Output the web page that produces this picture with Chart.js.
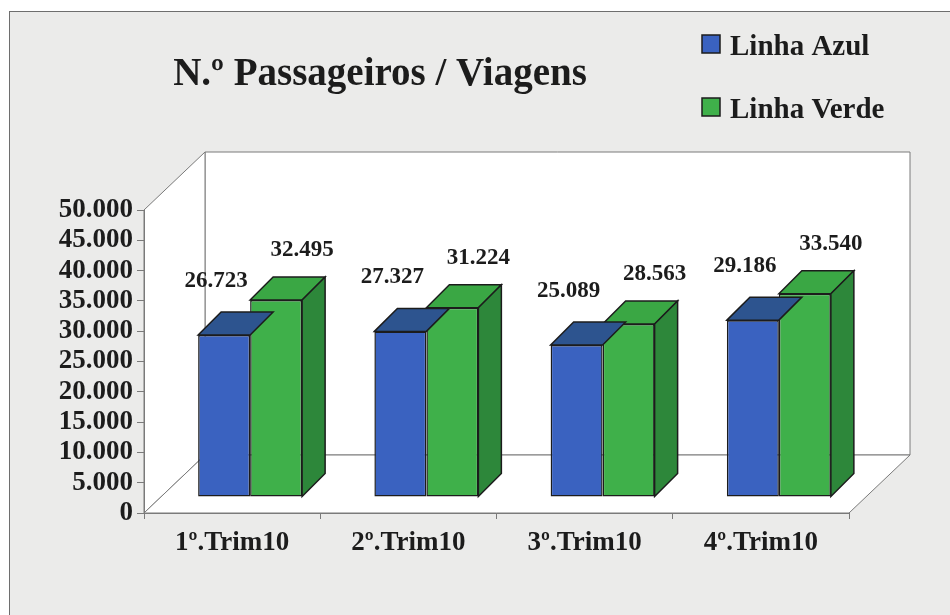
<!DOCTYPE html>
<html lang="pt">
<head>
<meta charset="UTF-8">
<title>N.º Passageiros / Viagens</title>
<script src="https://cdn.jsdelivr.net/npm/chart.js"></script>
<style>
    html, body { margin: 0; padding: 0; background: #fff; }
    #wrap { width: 950px; height: 615px; }
</style>
</head>
<body>
<div id="wrap"><canvas id="myChart" width="950" height="615"></canvas></div>
<script>
// data
const categories = ['1º.Trim10', '2º.Trim10', '3º.Trim10', '4º.Trim10'];
const linhaAzul = [26723, 27327, 25089, 29186];
const linhaVerde = [32495, 31224, 28563, 33540];
const seriesNames = ['Linha Azul', 'Linha Verde'];
const chartTitle = 'N.º Passageiros / Viagens';
const yMax = 50000;
const yStep = 5000;

const SERIF = "'Liberation Serif', 'Times New Roman', serif";
const INK = '#1c1c1c';
const LINE = '#7a7a7a';

// front / top / side colours for each series
const faces = [
    { front: '#3a62c0', top: '#2d548f', side: '#27467c' },
    { front: '#3fb04a', top: '#3aa744', side: '#2d873a' }
];

// 3d look: depth of the box, depth of the bars, where bars sit inside the box
const WALL_DX = 61, WALL_DY = 58;
const BAR_D = 23;
const BAR_SHIFT_X = 18, BAR_SHIFT_Y = 16;

function fmt(v) {
    return String(v).replace(/\B(?=(\d{3})+(?!\d))/g, '.');
}

function poly(ctx, pts, fill, stroke, lw) {
    ctx.beginPath();
    ctx.moveTo(pts[0][0], pts[0][1]);
    for (let i = 1; i < pts.length; i++) ctx.lineTo(pts[i][0], pts[i][1]);
    ctx.closePath();
    if (fill) { ctx.fillStyle = fill; ctx.fill(); }
    if (stroke) { ctx.strokeStyle = stroke; ctx.lineWidth = lw || 1; ctx.stroke(); }
}

const box3d = {
    id: 'box3d',
    beforeDraw(chart) {
        const ctx = chart.ctx;
        const a = chart.chartArea;
        ctx.save();
        // page + frame
        ctx.fillStyle = '#ffffff';
        ctx.fillRect(0, 0, chart.width, chart.height);
        ctx.fillStyle = '#ebebea';
        ctx.fillRect(9, 11, chart.width, chart.height);
        ctx.strokeStyle = '#6e6e6e';
        ctx.lineWidth = 1;
        ctx.strokeRect(9.5, 11.5, chart.width + 20, chart.height + 20);

        // back wall, left wall, floor
        const bl = a.left + WALL_DX, bt = a.top - WALL_DY;
        const br = a.right + WALL_DX, bb = a.bottom - WALL_DY;
        poly(ctx, [[bl, bt], [br, bt], [br, bb], [bl, bb]], '#ffffff', LINE, 1);
        poly(ctx, [[a.left, a.top], [bl, bt], [bl, bb], [a.left, a.bottom]], '#ffffff', LINE, 1);
        poly(ctx, [[a.left, a.bottom], [bl, bb], [br, bb], [a.right, a.bottom]], '#ffffff', LINE, 1);
        ctx.restore();
    },
    beforeDatasetsDraw(chart) {
        chart.ctx.save();
        chart.ctx.translate(BAR_SHIFT_X, -BAR_SHIFT_Y);
    },
    afterDatasetDraw(chart, args) {
        const ctx = chart.ctx;
        const f = faces[args.index];
        const last = args.index === chart.data.datasets.length - 1;
        args.meta.data.forEach(bar => {
            const p = bar.getProps(['x', 'y', 'base', 'width'], true);
            const l = p.x - p.width / 2, r = p.x + p.width / 2;
            const t = p.y, b = p.base;
            poly(ctx, [[l, t], [l + BAR_D, t - BAR_D], [r + BAR_D, t - BAR_D], [r, t]], f.top, INK, 1.5);
            if (last) {
                poly(ctx, [[r, t], [r + BAR_D, t - BAR_D], [r + BAR_D, b - BAR_D], [r, b]], f.side, INK, 1.5);
            }
        });
    },
    afterDatasetsDraw(chart) {
        const ctx = chart.ctx;
        // value labels above each bar
        ctx.font = 'bold 23px ' + SERIF;
        ctx.fillStyle = INK;
        ctx.textAlign = 'center';
        ctx.textBaseline = 'middle';
        const offs = [[-8, -54], [26, -50]];
        chart.data.datasets.forEach((ds, i) => {
            chart.getDatasetMeta(i).data.forEach((bar, j) => {
                ctx.fillText(fmt(ds.data[j]), bar.x + offs[i][0], bar.y + offs[i][1]);
            });
        });
        ctx.restore();
    },
    afterDraw(chart) {
        const ctx = chart.ctx;
        ctx.save();
        ctx.fillStyle = INK;
        ctx.textBaseline = 'alphabetic';
        // title
        ctx.font = 'bold 39px ' + SERIF;
        ctx.textAlign = 'center';
        ctx.fillText(chartTitle, 380, 85);
        // legend
        ctx.font = 'bold 29px ' + SERIF;
        ctx.textAlign = 'left';
        chart.data.datasets.forEach((ds, i) => {
            const y = 35 + i * 63;
            ctx.fillStyle = faces[i].front;
            ctx.fillRect(702, y, 18, 18);
            ctx.strokeStyle = INK;
            ctx.lineWidth = 1.5;
            ctx.strokeRect(702, y, 18, 18);
            ctx.fillStyle = INK;
            ctx.fillText(ds.label, 730, y + 20);
        });
        ctx.restore();
    }
};

const ctx = document.getElementById('myChart').getContext('2d');
const chart = new Chart(ctx, {
    type: 'bar',
    data: {
        labels: categories,
        datasets: [{
            label: seriesNames[0],
            data: linhaAzul,
            backgroundColor: faces[0].front,
            borderColor: INK,
            borderWidth: 1.5,
            borderSkipped: false,
            clip: false
        },
        {
            label: seriesNames[1],
            data: linhaVerde,
            backgroundColor: faces[1].front,
            borderColor: INK,
            borderWidth: 1.5,
            borderSkipped: false,
            clip: false
        }]
    },
    options: {
        responsive: false,
        animation: false,
        devicePixelRatio: 1,
        categoryPercentage: 0.59,
        barPercentage: 1,
        layout: { padding: { left: 0, right: 101, top: 210, bottom: 42 } },
        plugins: {
            legend: { display: false },
            title: { display: false },
            tooltip: { enabled: false }
        },
        scales: {
            y: {
                min: 0,
                max: yMax,
                afterFit(scale) { scale.width = 144; },
                ticks: {
                    stepSize: yStep,
                    autoSkip: false,
                    padding: 4,
                    color: INK,
                    font: { family: SERIF, size: 27, weight: 'bold', lineHeight: 1 },
                    callback: v => fmt(v)
                },
                grid: { drawOnChartArea: false, tickLength: 7, tickColor: LINE },
                border: { color: LINE, width: 1 }
            },
            x: {
                afterFit(scale) { scale.height = 60; },
                ticks: {
                    padding: 8,
                    color: INK,
                    font: { family: SERIF, size: 27, weight: 'bold' }
                },
                grid: { drawOnChartArea: false, tickLength: 6, tickColor: LINE },
                border: { color: LINE, width: 1 }
            }
        }
    },
    plugins: [box3d]
});
</script>
</body>
</html>
